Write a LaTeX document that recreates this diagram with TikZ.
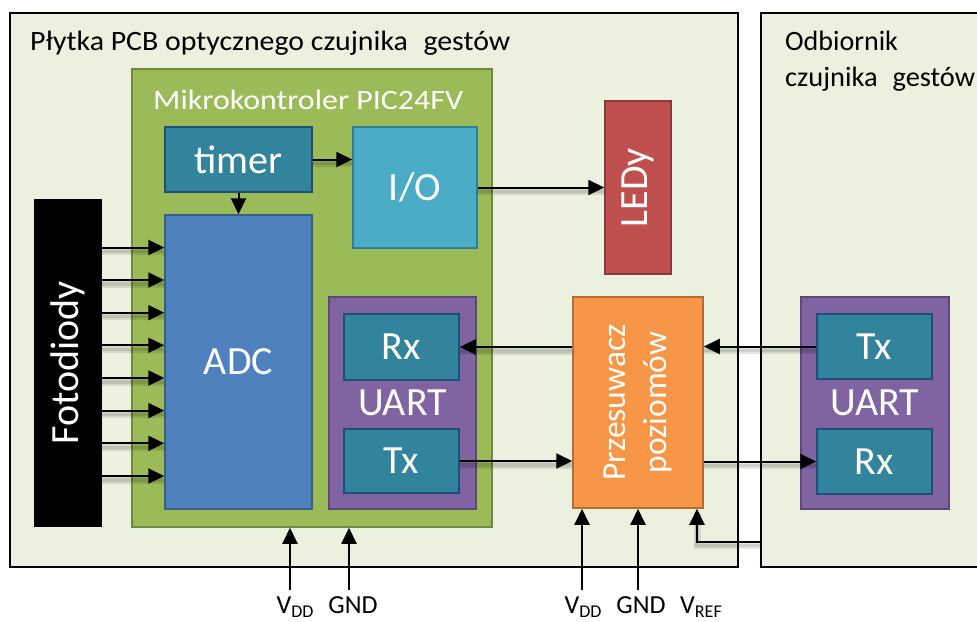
\documentclass[tikz,border=0pt]{standalone}
\usepackage{fontspec}
\setmainfont{Carlito}
\usetikzlibrary{arrows.meta}
\definecolor{panel}{HTML}{EBF1DE}
\definecolor{mcuF}{HTML}{9BBB59}
\definecolor{mcuD}{HTML}{71893F}
\definecolor{tealF}{HTML}{31849B}
\definecolor{tealD}{HTML}{1F4E79}
\definecolor{ioF}{HTML}{4BACC6}
\definecolor{ioD}{HTML}{357D91}
\definecolor{adcF}{HTML}{4F81BD}
\definecolor{adcD}{HTML}{385D8A}
\definecolor{ledF}{HTML}{C0504D}
\definecolor{ledD}{HTML}{8C3836}
\definecolor{purF}{HTML}{8064A2}
\definecolor{purD}{HTML}{5C4776}
\definecolor{orF}{HTML}{F79646}
\definecolor{orD}{HTML}{B66D31}
\begin{document}
\begin{tikzpicture}[x=1pt,y=-1pt,
  panelbox/.style={draw=black, line width=2pt, fill=panel, inner sep=0pt},
  blk/.style={line width=1.5pt, inner sep=0pt, text=white, font=\fontsize{40}{48}\selectfont},
  wlbl/.style={text=white, inner sep=0pt, font=\fontsize{40}{48}\selectfont},
  ttl/.style={text=black, inner sep=0pt, anchor=base west, font=\fontsize{28}{34}\selectfont},
  pin/.style={text=black, inner sep=0pt, anchor=base, font=\fontsize{26}{30}\selectfont},
  arr/.style={line width=2pt, -{Triangle[length=16pt,width=15pt]}},
  shad/.style={preaction={draw=black, draw opacity=0.10, line width=7pt, -, transform canvas={yshift=-4pt}},
               preaction={draw=black, draw opacity=0.10, line width=3.5pt, -, transform canvas={yshift=-4pt}}}
]
\useasboundingbox (0,0) rectangle (977,621);

% panels
\node[panelbox, minimum width=728pt, minimum height=554pt] (pcb) at (374,290) {};
\node[panelbox, minimum width=239pt, minimum height=554pt] (odb) at (880.5,290) {};
\node[ttl] (pcbt) at (30,50) {\resizebox{480pt}{\height}{Płytka PCB optycznego czujnika\hspace{0.3em} gestów}};
\node[ttl] (odbt1) at (785,50) {Odbiornik};
\node[ttl] (odbt2) at (785,86) {\resizebox{190pt}{\height}{czujnika\hspace{0.3em} gestów}};

% microcontroller
\node[blk, fill=mcuF, draw=mcuD, minimum width=360pt, minimum height=458pt] (mcu) at (312,298) {};
\node[ttl, text=white] (mcut) at (153,109) {\resizebox{310pt}{\height}{Mikrokontroler PIC24FV}};
\node[blk, fill=tealF, draw=tealD, minimum width=147pt, minimum height=65pt] (timer) at (238.5,159.5) {timer};
\node[blk, fill=ioF, draw=ioD, minimum width=124pt, minimum height=121pt] (io) at (415,187.5) {I/O};
\node[blk, fill=adcF, draw=adcD, minimum width=147pt, minimum height=294pt] (adc) at (238.5,362) {ADC};
\node[blk, fill=purF, draw=purD, minimum width=147pt, minimum height=212pt] (uart1) at (402.5,403) {UART};
\node[blk, fill=tealF, draw=tealD, minimum width=115pt, minimum height=66pt] (rx1) at (401.5,347) {Rx};
\node[blk, fill=tealF, draw=tealD, minimum width=115pt, minimum height=64pt] (tx1) at (401.5,461) {Tx};

% photodiodes
\node[blk, fill=black, draw=black, minimum width=66pt, minimum height=326pt] (foto) at (68,363) {};
\node[wlbl, rotate=90] (fotot) at (foto.center) {Fotodiody};

% LEDs
\node[blk, fill=ledF, draw=ledD, minimum width=66pt, minimum height=173pt] (led) at (638,187.5) {};
\node[wlbl, rotate=90] (ledt) at (led.center) {LEDy};

% level shifter
\node[blk, fill=orF, draw=orD, minimum width=130pt, minimum height=211pt] (shift) at (638,402.5) {};
\node[wlbl, rotate=90, align=center, font=\fontsize{33.5}{41}\selectfont] (shiftt) at (shift.center) {Przesuwacz\\poziomów};

% receiver UART
\node[blk, fill=purF, draw=purD, minimum width=148pt, minimum height=212pt] (uart2) at (875,403) {UART};
\node[blk, fill=tealF, draw=tealD, minimum width=115pt, minimum height=65pt] (tx2) at (874.5,346.5) {Tx};
\node[blk, fill=tealF, draw=tealD, minimum width=115pt, minimum height=65pt] (rx2) at (874.5,461.5) {Rx};

% internal arrows
\draw[arr] (timer) -- (adc);
\draw[arr, shad] (timer.east) -- (timer.east -| io.west);
\draw[arr, shad] (io.east |- led.west) -- (led.west);
\foreach \yy in {247.5,280,312.7,345.3,378,410.6,443.3,476}{
  \draw[arr, shad] (foto.east |- 0,\yy) -- (adc.west |- 0,\yy);
}
\draw[arr, shad] (shift.west |- rx1.east) -- (rx1.east);
\draw[arr, shad] (tx1.east) -- (tx1.east -| shift.west);
\draw[arr, shad] (tx2.west) -- (tx2.west -| shift.east);
\draw[arr, shad] (shift.east |- rx2.west) -- (rx2.west);

% supply pins
\coordinate (vdd1) at (290,590);
\coordinate (gnd1) at (349,590);
\coordinate (vdd2) at (582,590);
\coordinate (gnd2) at (638,590);
\coordinate (vref) at (697,541.5);
\draw[arr] (vdd1) -- (vdd1 |- mcu.south);
\draw[arr] (gnd1) -- (gnd1 |- mcu.south);
\draw[arr] (vdd2) -- (vdd2 |- shift.south);
\draw[arr] (gnd2) -- (gnd2 |- shift.south);
\draw[arr, shad] (odb.west |- vref) -- (vref) -- (vref |- shift.south);

\node[pin] (lvdd1) at (295,613) {V\raisebox{-4pt}{\fontsize{18}{20}\selectfont DD}};
\node[pin] (lgnd1) at (353,613) {GND};
\node[pin] (lvdd2) at (583,613) {V\raisebox{-4pt}{\fontsize{18}{20}\selectfont DD}};
\node[pin] (lgnd2) at (641,613) {GND};
\node[pin] (lvref) at (701,613) {V\raisebox{-4pt}{\fontsize{18}{20}\selectfont REF}};
\end{tikzpicture}
\end{document}
